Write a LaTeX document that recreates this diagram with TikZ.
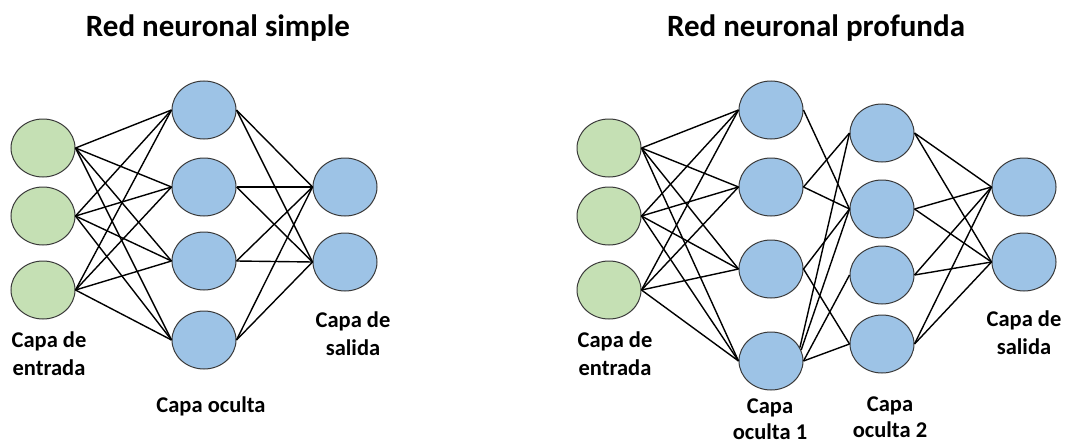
\documentclass[tikz,border=0pt]{standalone}
\usepackage{fontspec}
\setmainfont{Carlito}
\usetikzlibrary{shapes.geometric}
\definecolor{ingreen}{HTML}{C5E0B4}
\definecolor{nblue}{HTML}{9DC3E6}
\definecolor{nedge}{HTML}{3A3A3A}
\tikzset{
  neuron/.style={ellipse, draw=nedge, line width=1pt, minimum width=64pt, minimum height=58pt, inner sep=0pt},
  innode/.style={neuron, fill=ingreen},
  hnode/.style={neuron, fill=nblue},
  link/.style={line width=1.4pt, black},
  lbl/.style={font=\fontsize{22.5}{27.5}\selectfont\bfseries, align=center, inner sep=0pt, anchor=base},
  ttl/.style={font=\fontsize{31}{34}\selectfont\bfseries, inner sep=0pt, anchor=base}
}
\begin{document}
\begin{tikzpicture}[x=1pt,y=-1pt]
\useasboundingbox (0,0) rectangle (1065,444);
% titles
\node[ttl] (t1) at (218,37) {Red neuronal simple};
\node[ttl] (t2) at (816,37) {Red neuronal profunda};
% simple network
\node[innode] (a1) at (43,148) {};
\node[innode] (a2) at (43,216) {};
\node[innode] (a3) at (43,290) {};
\node[hnode] (b1) at (204,110) {};
\node[hnode] (b2) at (204,187) {};
\node[hnode] (b3) at (204,261) {};
\node[hnode] (b4) at (204,340) {};
\node[hnode] (c1) at (345,187) {};
\node[hnode] (c2) at (345,262) {};
\foreach \i in {1,2,3}{\foreach \j in {1,2,3,4}{\draw[link] (a\i.east) -- (b\j.west);}}
\foreach \i in {1,2,3,4}{\foreach \j in {1,2}{\draw[link] (b\i.east) -- (c\j.west);}}
\node[lbl] (la) at (49,375) {Capa de\\entrada};
\node[lbl] (lb) at (211,412) {Capa oculta};
\node[lbl] (lc) at (353,355) {Capa de\\salida};
% deep network
\node[innode] (d1) at (609,148) {};
\node[innode] (d2) at (609,216) {};
\node[innode] (d3) at (609,290) {};
\node[hnode] (e1) at (771,110) {};
\node[hnode] (e2) at (771,187) {};
\node[hnode] (e3) at (771,269) {};
\node[hnode] (e4) at (771,361) {};
\node[hnode] (f1) at (882,133) {};
\node[hnode] (f2) at (882,209) {};
\node[hnode] (f3) at (882,275) {};
\node[hnode] (f4) at (882,344) {};
\node[hnode] (g1) at (1024,187) {};
\node[hnode] (g2) at (1024,262) {};
\foreach \i in {1,2,3}{\foreach \j in {1,2,3,4}{\draw[link] (d\i.east) -- (e\j.west);}}
\draw[link] (e1.east) -- (f2.west);
\draw[link] (e2.east) -- (f1.west);
\draw[link] (e2.east) -- (f2.west);
\draw[link] (e3.east) -- (f2.west);
\draw[link] (e3.east) -- (f4.west);
\draw[link] (e4.25) -- (f1.west);
\draw[link] (e4.20) -- (f2.west);
\draw[link] (e4.east) -- (f3.west);
\draw[link] (e4.east) -- (f4.west);
\foreach \i in {1,2,3,4}{\foreach \j in {1,2}{\draw[link] (f\i.east) -- (g\j.west);}}
\node[lbl] (ld) at (615,375) {Capa de\\entrada};
\node[lbl, font=\fontsize{22.5}{26}\selectfont\bfseries] (le) at (770,439) {Capa\\oculta 1};
\node[lbl, font=\fontsize{22.5}{26}\selectfont\bfseries] (lf) at (890,437) {Capa\\oculta 2};
\node[lbl] (lg) at (1024,354) {Capa de\\salida};
\end{tikzpicture}
\end{document}
